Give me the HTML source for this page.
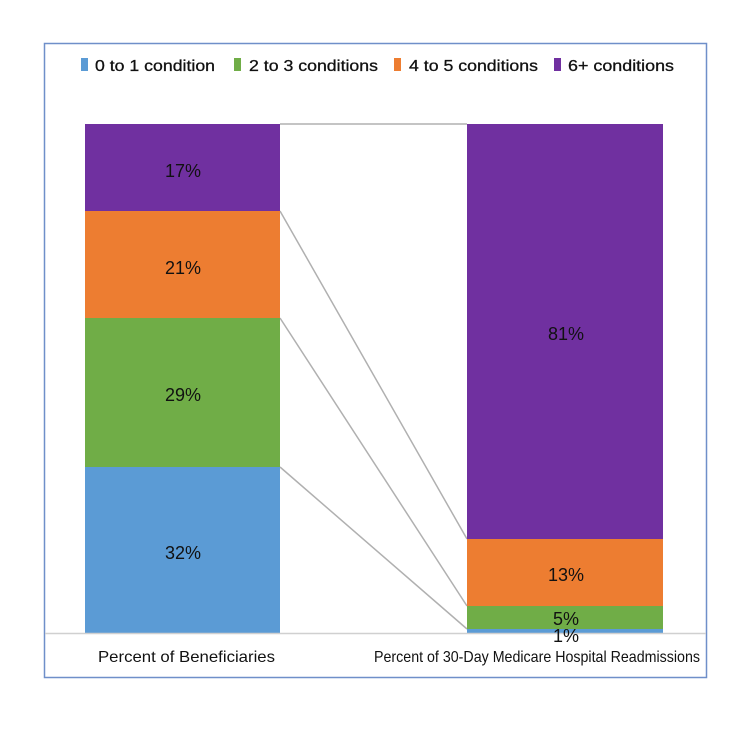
<!DOCTYPE html>
<html><head><style>
body{margin:0;background:#fff;width:755px;height:729px;overflow:hidden;font-family:"Liberation Sans",sans-serif;}
</style></head><body>
<svg width="755" height="729" xmlns="http://www.w3.org/2000/svg" font-family="Liberation Sans, sans-serif">
<rect x="44.5" y="43.5" width="662" height="634" fill="#fff" stroke="#6f8fc9" stroke-width="1.5"/>
<g font-size="16" fill="#111" stroke="#111" stroke-width="0.3">
<rect x="81" y="58" width="7" height="13" fill="#5b9bd5" stroke="none"/><text x="95" y="71" textLength="120" lengthAdjust="spacingAndGlyphs">0 to 1 condition</text>
<rect x="234" y="58" width="7" height="13" fill="#70ad47" stroke="none"/><text x="249" y="71" textLength="129" lengthAdjust="spacingAndGlyphs">2 to 3 conditions</text>
<rect x="394" y="58" width="7" height="13" fill="#ed7d31" stroke="none"/><text x="409" y="71" textLength="129" lengthAdjust="spacingAndGlyphs">4 to 5 conditions</text>
<rect x="554" y="58" width="7" height="13" fill="#7030a0" stroke="none"/><text x="568" y="71" textLength="106" lengthAdjust="spacingAndGlyphs">6+ conditions</text>
</g>
<g stroke="#b0b0b0" stroke-width="1.5">
<line x1="280" y1="124" x2="467" y2="124"/>
<line x1="280" y1="211" x2="467" y2="539"/>
<line x1="280" y1="318" x2="467" y2="606"/>
<line x1="280" y1="467" x2="467" y2="629"/>
</g>
<rect x="85" y="124" width="195" height="87" fill="#7030a0"/>
<rect x="85" y="211" width="195" height="107" fill="#ed7d31"/>
<rect x="85" y="318" width="195" height="149" fill="#70ad47"/>
<rect x="85" y="467" width="195" height="166" fill="#5b9bd5"/>
<rect x="467" y="124" width="196" height="415" fill="#7030a0"/>
<rect x="467" y="539" width="196" height="67" fill="#ed7d31"/>
<rect x="467" y="606" width="196" height="23" fill="#70ad47"/>
<rect x="467" y="629" width="196" height="4" fill="#5b9bd5"/>
<line x1="45" y1="633.5" x2="706" y2="633.5" stroke="#d0d0d0" stroke-width="1.5"/>
<g font-size="18" fill="#111" text-anchor="middle">
<text x="183" y="177">17%</text>
<text x="183" y="274">21%</text>
<text x="183" y="401">29%</text>
<text x="183" y="559">32%</text>
<text x="566" y="340">81%</text>
<text x="566" y="581">13%</text>
<text x="566" y="625">5%</text>
<text x="566" y="642">1%</text>
</g>
<text x="98" y="662" font-size="16" fill="#111" textLength="177" lengthAdjust="spacingAndGlyphs">Percent of Beneficiaries</text>
<text x="374" y="662" font-size="16" fill="#111" textLength="326" lengthAdjust="spacingAndGlyphs">Percent of 30-Day Medicare Hospital Readmissions</text>
</svg>
</body></html>
